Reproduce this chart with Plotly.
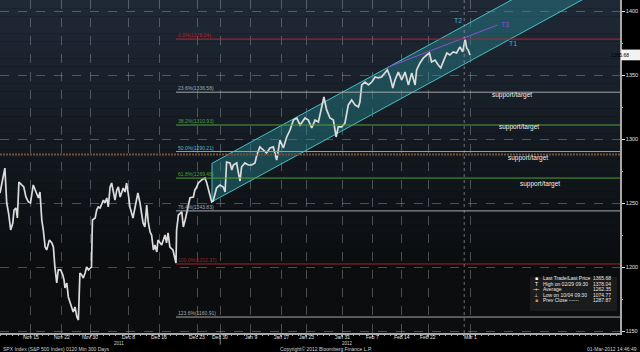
import plotly.graph_objects as go

# ---------------- data ----------------
# x = trading-day index since 8 Nov 2011 (120-min bars), y = SPX price
days = [0, 0.8, 1.1, 1.4, 1.75, 2.1, 2.3, 2.6, 2.85, 3.1, 3.55, 3.9, 4.25, 4.65, 5.0, 5.45, 5.9, 6.3, 6.55,
        6.85, 7.1, 7.4, 7.65, 8.1, 8.5, 8.75, 9.0, 9.3, 9.55, 9.95, 10.3, 10.5, 10.65, 10.95, 11.2, 11.5,
        11.75, 12.0, 12.3, 12.6, 12.85, 13.1, 13.4, 13.65, 13.95, 14.2, 14.5, 14.75, 15.0, 15.15, 15.6,
        15.85, 16.1, 16.4, 16.7, 16.95, 17.2, 17.5, 17.75, 18.05, 18.3, 18.6, 18.85, 19.15, 19.4, 19.7,
        19.95, 20.2, 20.5, 20.75, 21.05, 21.3, 21.8, 22.1, 22.4, 22.6, 22.95, 23.2, 23.45, 23.75, 24.05,
        24.3, 24.6, 24.85, 25.15, 25.4, 25.7, 25.9, 26.25, 26.5, 27.05, 27.3, 27.55, 27.85, 28.35, 28.7,
        28.85, 28.95, 29.25, 29.8, 30.05, 30.35, 30.6, 30.85, 31.15, 31.7, 31.95, 32.25, 32.5, 33.05, 33.6,
        33.9, 34.15, 34.4, 34.7, 34.95, 35.5, 36.05, 36.6, 36.9, 37.15, 37.7, 38.0, 38.25, 38.8, 39.05,
        39.35, 39.6, 40.15, 40.7, 41.25, 41.8, 42.1, 42.6, 43.15, 43.7, 44.25, 44.8, 45.35, 45.9, 46.45,
        47.0, 47.55, 48.1, 48.65, 49.2, 50.0, 50.55, 51.1, 51.65, 52.2, 52.75, 53.1, 53.55, 54.1, 54.65,
        55.1, 55.45, 56.0, 56.55, 56.85, 57.1, 57.65, 58.2, 58.75, 59.0, 59.3, 59.85, 60.4, 60.95, 61.5,
        62.0, 62.55, 63.1, 63.5, 63.95, 64.4, 64.75, 65.3, 65.85, 66.4, 66.95, 67.5, 68.05, 68.3, 68.85,
        69.4, 69.95, 70.4, 70.75, 71.3, 71.85, 72.25, 72.65, 73.25, 73.75, 74.3, 74.85, 75.4, 75.85, 76.25,
        76.5, 76.75, 77.05]
prices = [1257.8, 1277.3, 1250.0, 1242.2, 1228.9, 1234.4, 1244.5, 1246.1, 1238.3, 1266.4, 1264.1, 1262.5,
          1254.7, 1250.8, 1250.0, 1264.1, 1258.6, 1253.9, 1258.6, 1236.7, 1228.9, 1215.6, 1213.3, 1221.1,
          1218.8, 1215.6, 1200.0, 1187.5, 1197.7, 1197.7, 1193.8, 1189.8, 1183.6, 1187.5, 1176.6, 1171.9,
          1168.8, 1164.8, 1168.8, 1160.9, 1158.6, 1195.3, 1193.8, 1191.4, 1195.3, 1200.0, 1197.7, 1199.2,
          1200.0, 1236.7, 1238.3, 1244.5, 1246.9, 1246.1, 1250.0, 1252.3, 1250.0, 1253.9, 1246.9, 1262.5,
          1265.6, 1257.8, 1252.3, 1260.2, 1262.5, 1254.7, 1257.8, 1261.7, 1258.6, 1265.6, 1256.3, 1246.9,
          1238.3, 1246.9, 1254.7, 1257.8, 1250.0, 1242.2, 1234.4, 1231.3, 1248.4, 1235.2, 1227.3, 1225.0,
          1213.3, 1217.2, 1211.7, 1221.1, 1218.8, 1217.2, 1225.0, 1218.8, 1226.6, 1215.6, 1213.3, 1205.5,
          1203.1, 1228.9, 1240.6, 1243.0, 1231.3, 1236.7, 1242.2, 1246.9, 1254.1, 1254.7, 1260.2, 1262.5,
          1265.6, 1268.0, 1269.5, 1265.6, 1260.2, 1254.7, 1250.8, 1251.6, 1261.7, 1264.1, 1262.5, 1258.6,
          1282.0, 1281.3, 1275.8, 1279.7, 1281.3, 1274.2, 1267.2, 1278.1, 1281.3, 1279.7, 1279.7, 1281.3,
          1287.5, 1293.8, 1291.4, 1289.1, 1293.0, 1293.8, 1283.6, 1299.2, 1293.0, 1301.6, 1307.0, 1314.8,
          1316.4, 1310.9, 1316.4, 1314.8, 1308.6, 1314.8, 1313.3, 1325.0, 1332.8, 1322.7, 1316.4, 1314.8,
          1301.6, 1309.4, 1309.4, 1312.5, 1318.8, 1326.6, 1330.5, 1326.6, 1325.0, 1328.9, 1342.2, 1344.5,
          1342.2, 1344.5, 1348.4, 1347.7, 1348.4, 1351.6, 1353.9, 1348.4, 1339.8, 1346.1, 1352.3, 1346.1,
          1352.3, 1342.2, 1351.6, 1342.2, 1353.9, 1359.4, 1363.3, 1365.6, 1367.2, 1360.2, 1361.7, 1357.8,
          1355.5, 1360.2, 1367.2, 1365.6, 1368.0, 1367.2, 1371.9, 1368.0, 1378.04, 1371.1, 1369.5, 1365.68]

tick_days = [5.0, 10.1, 14.8, 21.0, 26.1, 32.3, 36.1, 41.1, 46.2, 50.2, 56.1, 61.1, 65.9, 70.2, 77.1]
tick_text = ["Nov 15", "Nov 22", "Nov 30", "Dec 8", "Dec 16", "Dec 23", "Dec 30", "Jan 9", "Jan 17",
             "Jan 23", "Jan 31", "Feb 7", "Feb 14", "Feb 22", "Mar 1"]
y_ticks = [1150, 1200, 1250, 1300, 1350, 1400]

fib_pcts = ["0.0%", "23.6%", "38.2%", "50.0%", "61.8%", "76.4%", "100.0%", "123.6%"]
fib_levels = [1378.04, 1336.58, 1310.93, 1290.21, 1269.48, 1243.83, 1202.37, 1160.91]
fib_colors = ["#b8232a", "#a8a8a8", "#4e9e3c", "#5cb8c4", "#4e9e3c", "#a8a8a8", "#a0262a", "#a8a8a8"]
fib_start = 28.85

channel_days = [34.75, 100.0]
channel_upper = [1281.0, 1450.6]
channel_lower = [1251.0, 1420.6]

t3_days = [63.4, 81.6]
t3_prices = [1355.8, 1389.1]

target_labels = ["T2", "T3", "T1"]
target_days = [75.1, 82.8, 84.1]
target_prices = [1392.2, 1389.8, 1375.0]
target_colors = ["#4aa8c0", "#8a4fd6", "#3fb5be"]

support_days = [84.0, 85.0, 86.6, 88.5]
support_prices = [1334.4, 1309.1, 1285.4, 1265.0]

prev_close = 1287.87
last_price = 1365.68
legend_names = ["Last Trade/Last Price", "High on 02/29 09:30", "Average", "Low on 10/04 09:30",
                "Prev Close ------"]
legend_values = ["1365.68", "1378.04", "1262.35", "1074.77", "1287.87"]
legend_marks = ["■", "T", "-+-", "⊥", "■"]
legend_mark_colors = ["#ffffff", "#ffffff", "#ffffff", "#ffffff", "#f08a1c"]

# ---------------- figure ----------------
W, H = 640, 352
L, R, T, B = 0, 20, 0, 19
XR = [0, 620 / 6.1]
YR = [1148.44, 1408.59]
FONT = "Liberation Sans"

fig = go.Figure()

# channel
fig.add_trace(go.Scatter(
    x=channel_days + channel_days[::-1] + [channel_days[0]],
    y=channel_upper + channel_lower[::-1] + [channel_upper[0]],
    fill="toself", fillcolor="rgba(40,140,150,0.42)",
    line=dict(color="#48c0c4", width=1), mode="lines", hoverinfo="skip"))

# T3 line
fig.add_trace(go.Scatter(x=t3_days, y=t3_prices, mode="lines",
                         line=dict(color="#8a4fd6", width=1), hoverinfo="skip"))

# price
fig.add_trace(go.Scatter(x=days, y=prices, mode="lines",
                         line=dict(color="#dcdcdc", width=1.7), hoverinfo="skip"))

shapes = []
# background gradient
top = (31, 41, 54)
bot = (11, 13, 15)
n = 40
for i in range(n):
    f = i / (n - 1)
    c = tuple(int(top[k] + (bot[k] - top[k]) * min(1, f * 1.25)) for k in range(3))
    shapes.append(dict(type="rect", xref="paper", yref="paper", x0=0, x1=1,
                       y0=1 - (i + 1) / n, y1=1 - i / n, fillcolor="rgb(%d,%d,%d)" % c,
                       line=dict(width=0), layer="below"))

# fib lines
for lvl, col in zip(fib_levels, fib_colors):
    shapes.append(dict(type="line", xref="x", yref="y", x0=fib_start, x1=XR[1], y0=lvl, y1=lvl,
                       line=dict(color=col, width=1)))
# prev close
shapes.append(dict(type="line", xref="x", yref="y", x0=0, x1=XR[1], y0=prev_close, y1=prev_close,
                   line=dict(color="#6e5038", width=2, dash="2px,1px")))
# current-day marker
shapes.append(dict(type="line", xref="x", yref="paper", x0=76.1, x1=76.1, y0=0, y1=1,
                   line=dict(color="rgba(170,170,170,0.6)", width=1, dash="dot")))
# year divider tick
shapes.append(dict(type="line", xref="x", yref="paper", x0=36.1, x1=36.1, y0=0, y1=-0.035,
                   line=dict(color="#8a8a8a", width=1)))

def px(xp):
    return xp / (W - L - R)

def py(yp):
    return (H - B - yp) / (H - T - B)

# legend box
shapes.append(dict(type="rect", xref="paper", yref="paper", x0=px(530), x1=px(617),
                   y0=py(311), y1=py(277), fillcolor="#1a1b1c", line=dict(width=0)))
# price tag
shapes.append(dict(type="rect", xref="paper", yref="y", x0=px(621), x1=px(640),
                   y0=last_price - 4.2, y1=last_price + 4.2, fillcolor="#f2f2f2", line=dict(width=0)))

ann = []
for pct, lvl, col in zip(fib_pcts, fib_levels, fib_colors):
    ann.append(dict(x=fib_start, y=lvl, xref="x", yref="y", text="%s(%.2f)" % (pct, lvl),
                    showarrow=False, xanchor="left", yanchor="bottom", yshift=-1,
                    font=dict(family=FONT, size=5, color=col)))
for lab, d, p, c in zip(target_labels, target_days, target_prices, target_colors):
    ann.append(dict(x=d, y=p, xref="x", yref="y", text=lab, showarrow=False,
                    font=dict(family=FONT, size=7, color=c)))
for d, p in zip(support_days, support_prices):
    ann.append(dict(x=d, y=p, xref="x", yref="y", text="support/target", showarrow=False,
                    font=dict(family=FONT, size=6.5, color="#f0f0f0")))
# x tick labels
for d, t in zip(tick_days, tick_text):
    ann.append(dict(x=d / XR[1], y=py(337), xref="paper", yref="paper", text=t, showarrow=False,
                    xanchor="center", yanchor="middle",
                    font=dict(family=FONT, size=5, color="#e0e0e0")))
# legend text
rows = [283, 288.5, 294, 299.5, 305]
for yy, nm, val, mk, mc in zip(rows, legend_names, legend_values, legend_marks, legend_mark_colors):
    ann.append(dict(x=px(536), y=py(yy), xref="paper", yref="paper", text=mk, showarrow=False,
                    xanchor="center", font=dict(family=FONT, size=5, color=mc)))
    ann.append(dict(x=px(541), y=py(yy), xref="paper", yref="paper", text=nm, showarrow=False,
                    xanchor="left", font=dict(family=FONT, size=5, color="#e8e8e8")))
    ann.append(dict(x=px(591), y=py(yy), xref="paper", yref="paper", text=val, showarrow=False,
                    xanchor="left", font=dict(family=FONT, size=5, color="#e8e8e8")))
# price tag text
ann.append(dict(x=px(630.5), y=last_price, xref="paper", yref="y", text="%.2f" % last_price,
                showarrow=False, font=dict(family=FONT, size=5, color="#000000")))
# years
ann.append(dict(x=px(112), y=py(343.5), xref="paper", yref="paper", text="2011", showarrow=False,
                yanchor="middle", font=dict(family=FONT, size=4.5, color="#d0d0d0")))
ann.append(dict(x=px(347), y=py(343.5), xref="paper", yref="paper", text="2012", showarrow=False,
                yanchor="middle", font=dict(family=FONT, size=4.5, color="#d0d0d0")))
# footer
ann.append(dict(x=px(1), y=py(349), xref="paper", yref="paper", text="SPX Index (S&P 500 Index) 0120 Min 300 Days",
                showarrow=False, xanchor="left", yanchor="middle", font=dict(family=FONT, size=5, color="#d0d0d0")))
ann.append(dict(x=px(326), y=py(349), xref="paper", yref="paper", text="Copyright© 2012 Bloomberg Finance L.P.",
                showarrow=False, xanchor="center", yanchor="middle", font=dict(family=FONT, size=5, color="#d0d0d0")))
ann.append(dict(x=px(639), y=py(349), xref="paper", yref="paper", text="01-Mar-2012 14:46:49",
                showarrow=False, xanchor="right", yanchor="middle", font=dict(family=FONT, size=5, color="#d0d0d0")))

fig.update_layout(
    width=W, height=H, margin=dict(l=L, r=R, t=T, b=B),
    paper_bgcolor="#000000", plot_bgcolor="#0b0d0f",
    showlegend=False, shapes=shapes, annotations=ann,
    xaxis=dict(range=XR, tickmode="array", tickvals=tick_days, showticklabels=False,
               showgrid=True, gridcolor="rgba(150,158,166,0.45)", griddash="dash", gridwidth=1,
               zeroline=False, showline=True, linecolor="#a8a8a8", linewidth=1.5,
               ticks="outside", ticklen=2, tickcolor="#a8a8a8",
               minor=dict(tickmode="linear", tick0=0, dtick=1, ticklen=1.5, tickcolor="#a8a8a8",
                          showgrid=False)),
    yaxis=dict(range=YR, side="right", tickmode="array", tickvals=y_ticks,
               showgrid=True, gridcolor="rgba(150,158,166,0.45)", griddash="dash", gridwidth=1,
               zeroline=False, showline=True, linecolor="#a8a8a8", linewidth=1.5,
               ticks="outside", ticklen=3, tickcolor="#e0e0e0",
               tickfont=dict(family=FONT, size=5.5, color="#e0e0e0"),
               minor=dict(tickmode="linear", tick0=1150, dtick=25, ticklen=1.5, tickcolor="#a8a8a8",
                          showgrid=False)),
)

fig.write_html("out.html")
